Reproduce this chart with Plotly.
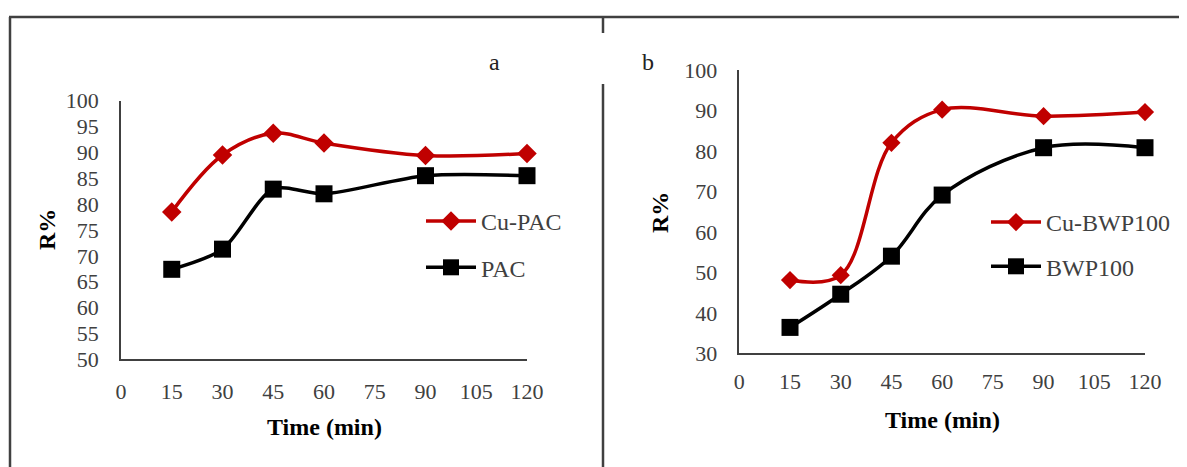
import plotly.graph_objects as go

# ---- data ----
time_min = [15, 30, 45, 60, 90, 120]
cu_pac = [78.5, 89.5, 93.7, 91.8, 89.4, 89.8]
pac = [67.4, 71.3, 82.9, 82.0, 85.5, 85.5]
cu_bwp100 = [48.1, 49.3, 82.0, 90.2, 88.6, 89.6]
bwp100 = [36.4, 44.6, 54.0, 69.1, 80.8, 80.8]

x_ticks = [0, 15, 30, 45, 60, 75, 90, 105, 120]
ya_ticks = list(range(50, 101, 5))
yb_ticks = list(range(30, 101, 10))

# page body has an 8px margin; figure fills the rest of the 1187x467 window
OFF = 8
W, H = 1187 - OFF, 467 - OFF
FONT = "Liberation Serif"
RED = "#C00000"
GRAY = "#404040"


def px_x(p):
    return (p - OFF) / W


def px_y(p):
    return 1 - (p - OFF) / H


fig = go.Figure()

fig.add_trace(go.Scatter(x=time_min, y=cu_pac, name="Cu-PAC", mode="lines+markers",
                         line=dict(color=RED, width=3.5, shape="spline", smoothing=1),
                         marker=dict(symbol="diamond", size=15, color=RED),
                         xaxis="x", yaxis="y", legend="legend", legendgroup="a1",
                         cliponaxis=False))
fig.add_trace(go.Scatter(x=time_min, y=pac, name="PAC", mode="lines+markers",
                         line=dict(color="black", width=3.5, shape="spline", smoothing=0.8),
                         marker=dict(symbol="square", size=17, color="black"),
                         xaxis="x", yaxis="y", legend="legend", legendgroup="a2",
                         cliponaxis=False))
fig.add_trace(go.Scatter(x=time_min, y=cu_bwp100, name="Cu-BWP100", mode="lines+markers",
                         line=dict(color=RED, width=3.5, shape="spline", smoothing=1),
                         marker=dict(symbol="diamond", size=14, color=RED),
                         xaxis="x2", yaxis="y2", legend="legend2", legendgroup="b1",
                         cliponaxis=False))
fig.add_trace(go.Scatter(x=time_min, y=bwp100, name="BWP100", mode="lines+markers",
                         line=dict(color="black", width=3.5, shape="spline", smoothing=1),
                         marker=dict(symbol="square", size=17, color="black"),
                         xaxis="x2", yaxis="y2", legend="legend2", legendgroup="b2",
                         cliponaxis=False))

axis_common = dict(showgrid=False, zeroline=False, showline=True, linecolor=GRAY,
                   linewidth=1.5, ticks="", automargin=False,
                   tickfont=dict(family=FONT, size=22, color=GRAY))

fig.update_layout(
    width=W, height=H, margin=dict(l=0, r=0, t=0, b=0, autoexpand=False),
    paper_bgcolor="white", plot_bgcolor="white",
    font=dict(family=FONT, color=GRAY),
    xaxis=dict(domain=[px_x(121), px_x(527)], range=[0, 120], tickvals=x_ticks,
               anchor="y", ticklabelstandoff=12, **axis_common),
    yaxis=dict(domain=[px_y(359.3), px_y(100.7)], range=[50, 100], tickvals=ya_ticks,
               anchor="x", ticklabelstandoff=16, **axis_common),
    xaxis2=dict(domain=[px_x(739.3), px_x(1145)], range=[0, 120], tickvals=x_ticks,
                anchor="y2", ticklabelstandoff=8, **axis_common),
    yaxis2=dict(domain=[px_y(353.3), px_y(70)], range=[30, 100], tickvals=yb_ticks,
                anchor="x2", ticklabelstandoff=16, **axis_common),
    legend=dict(x=px_x(421), y=px_y(199), xanchor="left", yanchor="top",
                font=dict(family=FONT, size=24, color=GRAY), bgcolor="rgba(0,0,0,0)",
                tracegroupgap=12, itemwidth=50),
    legend2=dict(x=px_x(986), y=px_y(200), xanchor="left", yanchor="top",
                 font=dict(family=FONT, size=24, color=GRAY), bgcolor="rgba(0,0,0,0)",
                 tracegroupgap=10, itemwidth=50),
)

annotations = [
    dict(text="<b>Time (min)</b>", x=px_x(324), y=px_y(427), font=dict(size=24, color="black")),
    dict(text="<b>Time (min)</b>", x=px_x(942), y=px_y(420), font=dict(size=24, color="black")),
    dict(text="<b>R%</b>", x=px_x(47), y=px_y(230), textangle=-90, font=dict(size=24, color="black")),
    dict(text="<b>R%</b>", x=px_x(660), y=px_y(212), textangle=-90, font=dict(size=24, color="black")),
    dict(text="a", x=px_x(494), y=px_y(62), font=dict(size=24, color="#222")),
    dict(text="b", x=px_x(648), y=px_y(62), font=dict(size=24, color="#222")),
]
for a in annotations:
    a.update(xref="paper", yref="paper", showarrow=False, xanchor="center", yanchor="middle")
    a["font"]["family"] = FONT
fig.update_layout(annotations=annotations)

border = dict(color=GRAY, width=2.5)
shapes = [
    dict(type="line", x0=px_x(9), x1=1, y0=px_y(17), y1=px_y(17)),
    dict(type="line", x0=px_x(10), x1=px_x(10), y0=px_y(17), y1=0),
    dict(type="line", x0=px_x(603), x1=px_x(603), y0=px_y(17), y1=px_y(33)),
    dict(type="line", x0=px_x(603), x1=px_x(603), y0=px_y(84), y1=0),
]
for s in shapes:
    s.update(xref="paper", yref="paper", line=border)
fig.update_layout(shapes=shapes)

fig.write_html("out.html")
